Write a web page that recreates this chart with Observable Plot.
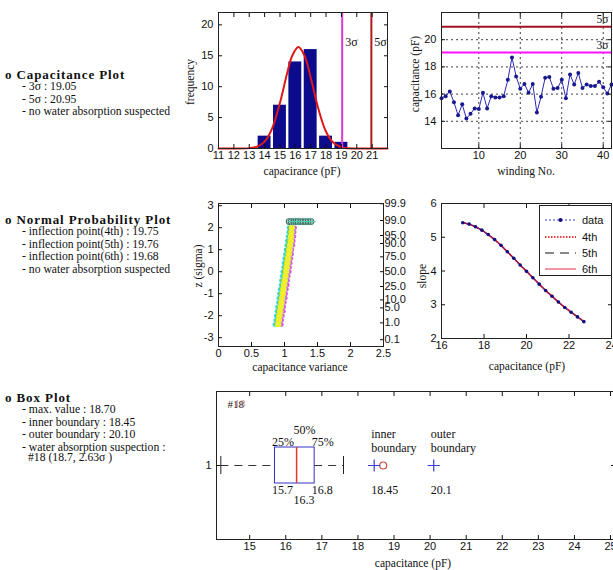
<!DOCTYPE html>
<html><head><meta charset="utf-8">
<script src="https://cdn.jsdelivr.net/npm/d3@7"></script>
<script src="https://cdn.jsdelivr.net/npm/@observablehq/plot@0.6"></script>
<style>
html,body{margin:0;padding:0;background:#fff;}
#root{position:relative;width:613px;height:570px;overflow:hidden;background:#fff;}
.t{position:absolute;font-family:"Liberation Serif","Times New Roman",serif;font-size:11.7px;line-height:13px;white-space:nowrap;color:#111;}
.h{font-weight:bold;font-size:13px;letter-spacing:0.9px;}
.lab{position:absolute;font-family:"Liberation Serif","Times New Roman",serif;font-size:11.5px;line-height:13px;white-space:nowrap;color:#111;transform:translate(-50%,-50%);}
.rot{transform:translate(-50%,-50%) rotate(-90deg);}
</style></head><body><div id="root"></div>
<script>
// ---------- data ----------
const histCenters = [14, 15, 16, 17, 18, 19];
const histFreq = [2, 7, 14, 16, 2, 1];
const fitX = [11, 12, 13, 13.5, 14, 14.5, 15, 15.5, 15.8, 16.2, 16.6, 17, 17.5, 18, 18.5, 19, 19.5, 20, 21, 22];
const fitY = [0, 0, 0.06, 0.29, 1.12, 3.31, 7.38, 12.5, 15.0, 16.4, 15.0, 11.5, 6.43, 2.72, 0.88, 0.21, 0.04, 0, 0, 0];
const sigma3 = 19.05, sigma5 = 20.95;

const winding = [1,2,3,4,5,6,7,8,9,10,11,12,13,14,15,16,17,18,19,20,21,22,23,24,25,26,27,28,29,30,31,32,33,34,35,36,37,38,39,40,41,42];
const capacitance = [15.7,15.85,16.2,15.4,14.45,15.25,14.2,14.55,14.95,14.9,16.1,14.95,15.85,15.75,15.75,15.85,17.05,18.7,17.3,16.4,16.75,16.1,16.75,14.65,15.8,17.2,17.25,16.4,16.45,17.05,15.7,17.45,16.7,17.55,16.45,16.7,16.6,16.6,16.9,16.5,16.05,16.7];

const zLevels = [-2.4,-2.2,-2.0,-1.8,-1.6,-1.4,-1.2,-1.0,-0.8,-0.6,-0.4,-0.2,0,0.2,0.4,0.6,0.8,1.0,1.2,1.4,1.6,1.8,2.0];
const varCyan    = [0.85,0.865,0.87,0.885,0.89,0.905,0.91,0.92,0.93,0.945,0.95,0.96,0.97,0.985,0.99,1.0,1.01,1.02,1.03,1.04,1.05,1.06,1.065];
const varGreen   = [0.875,0.885,0.895,0.9,0.915,0.925,0.935,0.94,0.955,0.965,0.97,0.985,0.99,1.0,1.01,1.02,1.035,1.04,1.05,1.06,1.07,1.075,1.08];
const varMagenta = [0.955,0.96,0.97,0.985,0.99,1.0,1.015,1.02,1.03,1.045,1.05,1.06,1.075,1.08,1.09,1.1,1.11,1.115,1.13,1.135,1.145,1.15,1.155];
const varBlue    = [0.935,0.94,0.955,0.96,0.975,0.98,0.995,1.0,1.015,1.02,1.035,1.04,1.055,1.06,1.075,1.08,1.095,1.1,1.11,1.12,1.125,1.135,1.14];
const varYellowA = [0.895,0.905,0.915,0.925,0.935,0.945,0.955,0.965,0.975,0.985,0.995,1.005,1.015,1.025,1.035,1.045,1.055,1.065,1.075,1.085,1.09,1.1,1.105];
const varYellowB = [0.915,0.925,0.935,0.945,0.955,0.965,0.975,0.985,0.995,1.005,1.015,1.025,1.035,1.045,1.055,1.065,1.075,1.085,1.095,1.105,1.11,1.115,1.12];
const topVarX = [1.07,1.1,1.13,1.17,1.2,1.24,1.28,1.32,1.36,1.4];
const topVarZ = 2.28;
const probZ = [3.09, 2.326, 1.645, 1.282, 0.674, 0, -0.674, -1.282, -1.645, -2.326, -3.09];
const probLabels = ["99.9","99.0","95.0","90.0","75.0","50.0","25.0","10.0","5.0","1.0","0.1"];

const slopeX = [17.0,17.3,17.6,17.9,18.2,18.5,18.8,19.1,19.4,19.7,20.0,20.3,20.6,20.9,21.2,21.5,21.8,22.1,22.4,22.7];
const slopeY = [5.43,5.39,5.31,5.21,5.08,4.93,4.76,4.57,4.38,4.18,3.99,3.80,3.61,3.42,3.25,3.08,2.92,2.78,2.64,2.50];

const boxQ1 = 15.7, boxMedian = 16.3, boxQ3 = 16.8, whiskerLow = 14.2, whiskerHigh = 17.6;
const maxValue = 18.7, innerBoundary = 18.45, outerBoundary = 20.1;

// ---------- helpers ----------
const root = document.getElementById("root");
function put(node, left, top) {
  node.style.position = "absolute"; node.style.left = left + "px"; node.style.top = top + "px";
  root.appendChild(node);
}
function line(str, left, cy, bold) {
  const d = document.createElement("div");
  d.className = "t" + (bold ? " h" : "");
  d.textContent = str;
  put(d, left, cy - 6.5);
}
function lab(str, cx, cy, rotate) {
  const d = document.createElement("div");
  d.className = "lab" + (rotate ? " rot" : "");
  d.textContent = str;
  put(d, cx, cy);
}
const baseStyle = {background: "transparent", fontFamily: '"Liberation Sans", Arial, sans-serif', fontSize: "11px", color: "#111", overflow: "visible"};
const fmt = d => String(d);
function boxAxes(xt, yt, xf = fmt, yf = fmt, rightAxis = null) {
  return [
    Plot.axisX({anchor: "bottom", ticks: xt, tickSize: -4, tickPadding: 7, tickFormat: xf, label: null}),
    Plot.axisX({anchor: "top", ticks: xt, tickSize: -4, tickFormat: () => "", label: null}),
    Plot.axisY({anchor: "left", ticks: yt, tickSize: -4, tickPadding: 9, tickFormat: yf, label: null}),
    rightAxis || Plot.axisY({anchor: "right", ticks: yt, tickSize: -4, tickFormat: () => "", label: null}),
    Plot.frame({stroke: "#222"})
  ];
}
const serif = '"Liberation Serif","Times New Roman",serif';

// ---------- left text ----------
line("o Capacitance Plot", 5, 74, true);
line("- 3\u03c3 : 19.05", 22, 86.5);
line("- 5\u03c3 : 20.95", 22, 99);
line("- no water absorption suspected", 22, 111.5);

line("o Normal Probability Plot", 5, 219, true);
line("- inflection point(4th) : 19.75", 22, 231.5);
line("- inflection point(5th) : 19.76", 22, 244);
line("- inflection point(6th) : 19.68", 22, 256.5);
line("- no water absorption suspected", 22, 269);

line("o Box Plot", 5, 397, true);
line("- max. value : 18.70", 22, 409.5);
line("- inner boundary : 18.45", 22, 422);
line("- outer boundary : 20.10", 22, 434.5);
line("- water absorption suspection :", 22, 447);
line("#18 (18.7,  2.63\u03c3 )", 28, 457);

// ---------- panel 1: histogram ----------
const histData = histCenters.map((c, i) => ({c, f: histFreq[i]}));
const fitData = fitX.map((x, i) => ({x, y: fitY[i]}));
const p1 = Plot.plot({
  width: 230, height: 180, marginLeft: 48, marginRight: 13, marginTop: 12, marginBottom: 32,
  style: baseStyle,
  x: {domain: [11, 22]}, y: {domain: [0, 22]},
  marks: [
    Plot.rect(histData, {x1: d => d.c - 0.42, x2: d => d.c + 0.42, y1: 0, y2: "f", fill: "#0b0b8c"}),
    Plot.line(fitData, {x: "x", y: "y", stroke: "#e01818", strokeWidth: 2, curve: "catmull-rom"}),
    Plot.ruleX([sigma3], {stroke: "#d83cd8", strokeWidth: 2}),
    Plot.ruleX([sigma5], {stroke: "#b01c1c", strokeWidth: 2}),
    Plot.text([{v: sigma3, t: "3\u03c3"}, {v: sigma5, t: "5\u03c3"}], {x: "v", text: "t", frameAnchor: "top", dy: 25, dx: 3, textAnchor: "start", fontFamily: serif, fontSize: 12}),
    ...boxAxes([11,12,13,14,15,16,17,18,19,20,21], [0,5,10,15,20])
  ]
});
put(p1, 170, 0);
lab("frequency", 190, 82, true);
lab("capacirance (pF)", 302, 171);

// ---------- panel 2: capacitance vs winding ----------
const capData = winding.map((w, i) => ({w, c: capacitance[i]}));
const p2 = Plot.plot({
  width: 213, height: 180, marginLeft: 41, marginRight: 2, marginTop: 12, marginBottom: 32,
  style: baseStyle,
  x: {domain: [1, 42]}, y: {domain: [12, 22]},
  marks: [
    Plot.gridX({ticks: [10, 20, 30, 40], stroke: "#000", strokeOpacity: 0.75, strokeDasharray: "2,3"}),
    Plot.gridY({ticks: [14, 16, 18, 20], stroke: "#000", strokeOpacity: 0.75, strokeDasharray: "2,3"}),
    Plot.ruleY([sigma5], {stroke: "#a01020", strokeWidth: 2}),
    Plot.ruleY([sigma3], {stroke: "#ff10ff", strokeWidth: 2}),
    Plot.text([{v: sigma5, t: "5\u03c3"}, {v: sigma3, t: "3\u03c3"}], {y: "v", text: "t", frameAnchor: "right", dx: -3, dy: -7, textAnchor: "end", fontFamily: serif, fontSize: 11.5}),
    Plot.line(capData, {x: "w", y: "c", stroke: "#2a2ab8", strokeWidth: 1}),
    Plot.dot(capData, {x: "w", y: "c", r: 2, fill: "#1a1a90"}),
    ...boxAxes([10, 20, 30, 40], [14, 16, 18, 20])
  ]
});
put(p2, 400, 0);
lab("capacitance  (pF)", 415, 74, true);
lab("winding No.", 526, 171);

// ---------- panel 3: normal probability ----------
function series(xs) { return xs.map((x, i) => ({x, z: zLevels[i]})); }
const npMarks = [
  [varCyan, "#38d8ec", 2.2], [varGreen, "#50c850", 2.1], [varMagenta, "#e048e0", 2.2], [varBlue, "#7088ee", 2.0],
  [varYellowA, "#f4f01c", 2.7], [varYellowB, "#f0ee30", 2.6]
].map(([xs, c, r]) => Plot.dot(series(xs), {x: "x", y: "z", r, fill: c, fillOpacity: 0.95}));
const topData = topVarX.map(x => ({x, z: topVarZ}));
const p3 = Plot.plot({
  width: 245, height: 180, marginLeft: 48, marginRight: 32, marginTop: 13, marginBottom: 24,
  style: baseStyle,
  x: {domain: [0, 2.5]}, y: {domain: [-3.4, 3.1]},
  marks: [
    ...npMarks,
    Plot.dot(topData, {x: "x", y: "z", symbol: "circle", r: 2.8, stroke: "#4e6e60", strokeWidth: 1.2}),
    Plot.dot(topData, {x: d => d.x + 0.02, y: "z", symbol: "plus", r: 2.5, stroke: "#50c8b0", strokeWidth: 1, strokeOpacity: 0.8}),
    ...boxAxes([0, 0.5, 1, 1.5, 2, 2.5], [-3, -2, -1, 0, 1, 2, 3], fmt, fmt,
      Plot.axisY({anchor: "right", ticks: probZ, tickSize: -4, tickPadding: 5, tickFormat: d => probLabels[probZ.indexOf(d)], label: null}))
  ]
});
put(p3, 170, 190);
lab("z  (sigma)", 198, 266, true);
lab("capacitance variance", 300, 367);

// ---------- panel 4: slope ----------
const slopeData = slopeX.map((x, i) => ({x, y: slopeY[i]}));
const p4 = Plot.plot({
  width: 213, height: 180, marginLeft: 41, marginRight: 2, marginTop: 13, marginBottom: 32,
  style: baseStyle,
  x: {domain: [16, 24]}, y: {domain: [2, 6]},
  marks: [
    Plot.line(slopeData, {x: "x", y: "y", stroke: "#e8506a", strokeWidth: 1.5}),
    Plot.line(slopeData, {x: "x", y: "y", stroke: "#111", strokeWidth: 1, strokeDasharray: "7,4"}),
    Plot.line(slopeData, {x: "x", y: "y", stroke: "#e00000", strokeWidth: 1.5, strokeDasharray: "1.5,1.5"}),
    Plot.line(slopeData, {x: "x", y: "y", stroke: "#3a3ad0", strokeWidth: 1, strokeDasharray: "2,2"}),
    Plot.dot(slopeData, {x: "x", y: "y", r: 1.8, fill: "#101080"}),
    ...boxAxes([16, 18, 20, 22, 24], [2, 3, 4, 5, 6])
  ]
});
put(p4, 400, 190);
lab("slope", 422, 276, true);
lab("capacitance  (pF)", 527, 366);

// legend
const leg = document.createElement("div");
leg.style.width = "71px"; leg.style.height = "69px"; leg.style.border = "1px solid #222"; leg.style.background = "#fff";
leg.innerHTML = `<svg width="71" height="69" style="font-family:'Liberation Sans',Arial,sans-serif;font-size:11px">
<line x1="5" x2="36" y1="14" y2="14" stroke="#3a3ad0" stroke-dasharray="2,2"/><circle cx="20.5" cy="14" r="2" fill="#101080"/>
<text x="42" y="18" fill="#111">data</text>
<line x1="5" x2="36" y1="31" y2="31" stroke="#e00000" stroke-width="1.5" stroke-dasharray="1.5,1.5"/>
<text x="42" y="35" fill="#111">4th</text>
<line x1="5" x2="36" y1="47" y2="47" stroke="#111" stroke-dasharray="9,6"/>
<text x="42" y="51" fill="#111">5th</text>
<line x1="5" x2="36" y1="63" y2="63" stroke="#e8506a" stroke-width="1.2"/>
<text x="42" y="67" fill="#111">6th</text></svg>`;
put(leg, 539, 205);

// ---------- panel 5: box plot ----------
const hb = 0.1216, cap = 0.061;
const segs = [{a: whiskerLow, b: boxQ1}, {a: boxQ3, b: whiskerHigh}];
const annotations = [
  {x: boxQ1, t: "25%", dy: -23},
  {x: boxQ3, t: "75%", dy: -23},
  {x: boxMedian, t: "50%", dy: -35},
  {x: boxQ1, t: "15.7", dy: 25},
  {x: boxQ3, t: "16.8", dy: 25},
  {x: boxMedian, t: "16.3", dy: 35},
  {x: innerBoundary, t: "inner", dy: -31},
  {x: innerBoundary, t: "boundary", dy: -17},
  {x: innerBoundary, t: "18.45", dy: 25},
  {x: outerBoundary, t: "outer", dy: -31},
  {x: outerBoundary, t: "boundary", dy: -17},
  {x: outerBoundary, t: "20.1", dy: 25}
];
const annMarks = Array.from(d3.group(annotations, d => d.dy), ([dy, items]) =>
  Plot.text(items, {x: "x", y: () => 1, text: "t", dy, dx: -3, textAnchor: "start", fontFamily: serif, fontSize: 12, fill: "#111"}));
const p5 = Plot.plot({
  width: 440, height: 190, marginLeft: 36, marginRight: 6, marginTop: 11, marginBottom: 31,
  style: baseStyle,
  x: {domain: [14.08, 25.11]}, y: {domain: [0.5, 1.5]},
  marks: [
    Plot.ruleY(segs, {y: () => 1, x1: "a", x2: "b", stroke: "#333", strokeDasharray: "8,6"}),
    Plot.ruleX([whiskerLow, whiskerHigh], {x: d => d, y1: 1 - cap, y2: 1 + cap, stroke: "#222"}),
    Plot.rect([{q1: boxQ1, q3: boxQ3}], {x1: "q1", x2: "q3", y1: 1 - hb, y2: 1 + hb, fill: "none", stroke: "#3232c8"}),
    Plot.ruleX([boxMedian], {x: d => d, y1: 1 - hb, y2: 1 + hb, stroke: "#e03a2a", strokeWidth: 1.5}),
    Plot.dot([maxValue], {x: d => d, y: () => 1, r: 3.5, stroke: "#d04848", strokeWidth: 1.2}),
    Plot.dot([innerBoundary, outerBoundary], {x: d => d, y: () => 1, symbol: "plus", r: 4, stroke: "#3a3ad0", strokeWidth: 1.2}),
    ...annMarks,
    Plot.text(["#18"], {frameAnchor: "top-left", text: d => d, dx: 11, dy: 9, textAnchor: "start", fontFamily: serif, fontSize: 11, fill: "#222"}),
    Plot.text(["18"], {frameAnchor: "top-left", text: d => d, dx: 18, dy: 8, textAnchor: "start", fontFamily: serif, fontSize: 11, fill: "#c85050", fillOpacity: 0.6}),
    ...boxAxes([15,16,17,18,19,20,21,22,23,24,25], [1])
  ]
});
put(p5, 180, 380);
lab("capacitance  (pF)", 413, 563);
</script></body></html>
